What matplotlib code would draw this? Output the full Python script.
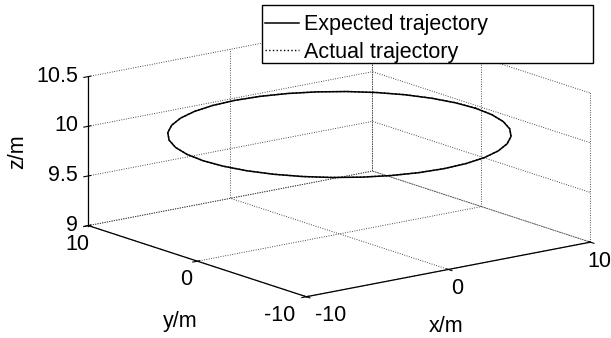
import numpy as np
import matplotlib.pyplot as plt
from matplotlib.patches import Rectangle

plt.rcParams['font.family'] = ['Liberation Sans', 'DejaVu Sans']
plt.rcParams['grid.color'] = '#333333'
plt.rcParams['grid.linestyle'] = ':'
plt.rcParams['grid.linewidth'] = 0.65

# Expected trajectory: circle at z = 10
exp_x = [9.60, 9.45, 9.02, 8.31, 7.35, 6.17, 4.80, 3.28, 1.67, 0.00,
         -1.67, -3.28, -4.80, -6.17, -7.35, -8.31, -9.02, -9.45, -9.60,
         -9.45, -9.02, -8.31, -7.35, -6.17, -4.80, -3.28, -1.67, 0.00,
         1.67, 3.28, 4.80, 6.17, 7.35, 8.31, 9.02, 9.45, 9.60]
exp_y = [0.00, 1.67, 3.28, 4.80, 6.17, 7.35, 8.31, 9.02, 9.45, 9.60,
         9.45, 9.02, 8.31, 7.35, 6.17, 4.80, 3.28, 1.67, 0.00,
         -1.67, -3.28, -4.80, -6.17, -7.35, -8.31, -9.02, -9.45, -9.60,
         -9.45, -9.02, -8.31, -7.35, -6.17, -4.80, -3.28, -1.67, 0.00]
exp_z = [10.0] * len(exp_x)

# Actual trajectory: almost on top of the expected one
act_x = [9.62, 9.47, 9.03, 8.33, 7.36, 6.18, 4.81, 3.29, 1.68, 0.01,
         -1.66, -3.27, -4.79, -6.16, -7.34, -8.30, -9.01, -9.44, -9.59,
         -9.44, -9.01, -8.30, -7.34, -6.16, -4.79, -3.27, -1.66, 0.01,
         1.68, 3.29, 4.81, 6.18, 7.36, 8.33, 9.03, 9.47, 9.62]
act_y = [0.01, 1.68, 3.29, 4.81, 6.18, 7.36, 8.32, 9.03, 9.46, 9.61,
         9.46, 9.03, 8.32, 7.36, 6.18, 4.81, 3.29, 1.68, 0.01,
         -1.66, -3.27, -4.79, -6.16, -7.34, -8.30, -9.01, -9.44, -9.59,
         -9.44, -9.01, -8.30, -7.34, -6.16, -4.79, -3.27, -1.66, 0.01]
act_z = [10.0] * len(act_x)

x_ticks = [-10, 0, 10]
y_ticks = [-10, 0, 10]
z_ticks = [9, 9.5, 10, 10.5]
z_tick_labels = ['9', '9.5', '10', '10.5']
x_tick_labels = ['-10', '0', '10']
y_tick_labels = ['-10', '0', '10']


def main():
    fig = plt.figure(figsize=(6.11, 3.38), dpi=100)
    ax = fig.add_axes([0.048, 0.015, 1.0, 1.0], projection='3d', proj_type='ortho')
    ax.view_init(elev=14.5, azim=-127.5)
    ax.set_box_aspect((1, 1, 0.43), zoom=1.52)

    l1, = ax.plot(exp_x, exp_y, exp_z, color='black', lw=1.1, label='Expected trajectory')
    l2, = ax.plot(act_x, act_y, act_z, color='black', lw=1.0, ls=':', label='Actual trajectory')
    l1.set_clip_on(False)
    l2.set_clip_on(False)

    ax.set_xlim(-10, 10)
    ax.set_ylim(-10, 10)
    ax.set_zlim(9, 10.5)
    ax.set_xticks(x_ticks)
    ax.set_yticks(y_ticks)
    ax.set_zticks(z_ticks)
    ax.set_xticklabels(x_tick_labels)
    ax.set_yticklabels(y_tick_labels)
    ax.set_zticklabels(z_tick_labels)

    for axis in (ax.xaxis, ax.yaxis, ax.zaxis):
        axis.set_pane_color((1, 1, 1, 0))
        axis.pane.set_edgecolor('none')
        axis.line.set_color('black')
        axis.line.set_linewidth(0.9)

    ax.tick_params(labelsize=15.5, colors='black', pad=-3)
    ax.tick_params(axis='z', pad=-5.4)

    # z tick labels sit level with their ticks, right-aligned
    for lbl in ax.get_zticklabels():
        lbl.set_ha('right')
        lbl.set_va('center')
    # pull the two corner labels apart like the original
    ax.get_yticklabels()[0].set_ha('right')
    ax.get_xticklabels()[0].set_ha('left')

    # axis labels placed where the original puts them
    fig.text(180 / 611, 1 - 322 / 338, 'y/m', fontsize=15.5, ha='center', va='center')
    fig.text(446 / 611, 1 - 327 / 338, 'x/m', fontsize=15.5, ha='center', va='center')
    fig.text(18 / 611, 1 - 152 / 338, 'z/m', fontsize=15.5, ha='center', va='center',
             rotation=90)

    # MATLAB-style wide legend box
    box = Rectangle((262 / 611, 1 - 63 / 338), 331 / 611, 58 / 338,
                    transform=fig.transFigure, facecolor='white', edgecolor='black',
                    lw=1.0, zorder=3)
    fig.patches.append(box)
    fig.legend(handles=[l1, l2], loc='upper left',
               bbox_to_anchor=(263 / 611, 1 - 12 / 338), fontsize=15.5,
               frameon=False, borderpad=0.1, borderaxespad=0, labelspacing=0.3,
               handlelength=1.55, handletextpad=0.25)

    plt.savefig('out.png', dpi=100)


if __name__ == "__main__":
    main()
